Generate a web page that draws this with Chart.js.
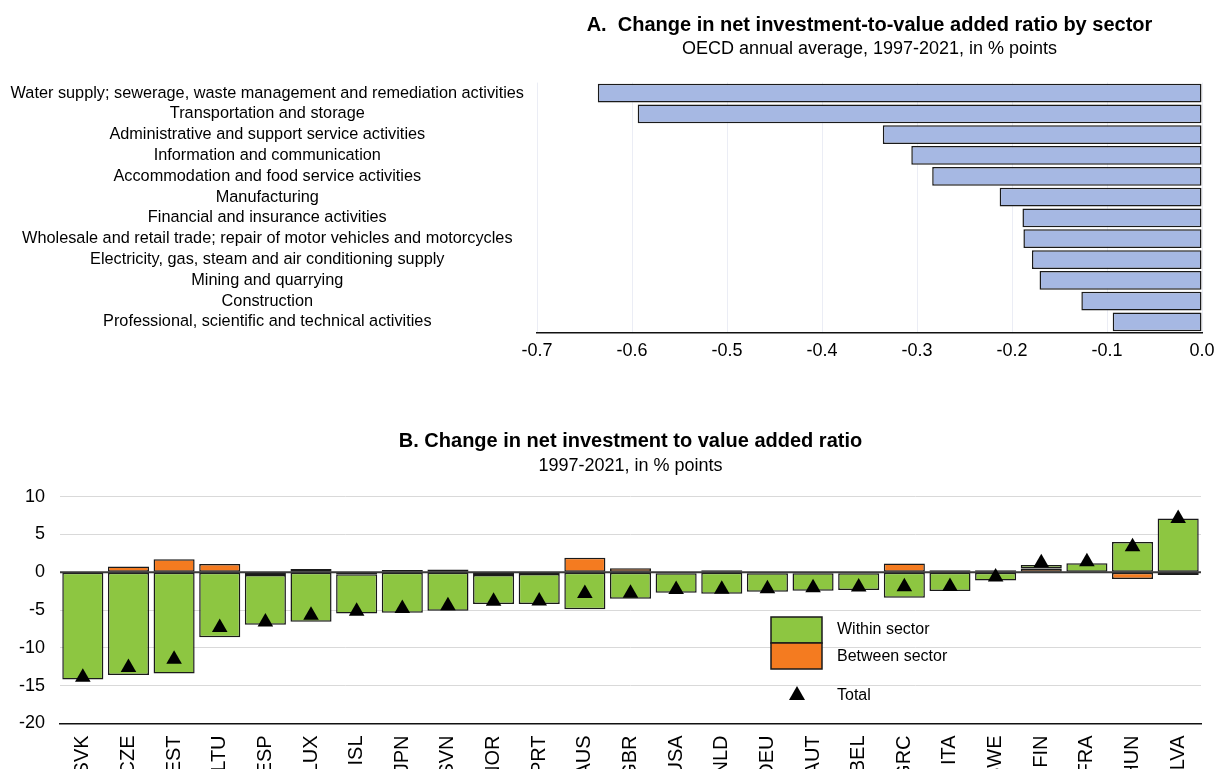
<!DOCTYPE html>
<html>
<head>
<meta charset="utf-8">
<script src="https://cdn.jsdelivr.net/npm/chart.js@4/dist/chart.umd.min.js"></script>
<style>
  html, body { margin: 0; padding: 0; background: #fff; overflow: hidden; }
  #wrapA { position: absolute; left: 0; top: 0; width: 1216px; height: 372px; }
  #wrapB { position: absolute; left: 0; top: 420px; width: 1216px; height: 374px; }
</style>
</head>
<body>
<div id="wrapA"><canvas id="sectorChart" width="1216" height="372"></canvas></div>
<div id="wrapB"><canvas id="countryChart" width="1216" height="374"></canvas></div>
<script>
// Panel A data
const sectors = [
    'Water supply; sewerage, waste management and remediation activities',
    'Transportation and storage',
    'Administrative and support service activities',
    'Information and communication',
    'Accommodation and food service activities',
    'Manufacturing',
    'Financial and insurance activities',
    'Wholesale and retail trade; repair of motor vehicles and motorcycles',
    'Electricity, gas, steam and air conditioning supply',
    'Mining and quarrying',
    'Construction',
    'Professional, scientific and technical activities'
];
const sectorChange = [-0.636, -0.594, -0.336, -0.306, -0.284, -0.213, -0.189, -0.188, -0.179, -0.171, -0.127, -0.094];

// Panel B data
const countries = ['SVK', 'CZE', 'EST', 'LTU', 'ESP', 'LUX', 'ISL', 'JPN', 'SVN', 'NOR', 'PRT', 'AUS', 'GBR',
    'USA', 'NLD', 'DEU', 'AUT', 'BEL', 'GRC', 'ITA', 'SWE', 'FIN', 'FRA', 'HUN', 'LVA'];
const withinSector = [-14.2, -13.6, -13.4, -8.6, -6.6, -6.55, -5.18, -5.36, -5.1, -3.84, -3.97, -4.9, -3.5,
    -2.57, -2.84, -2.42, -2.3, -2.2, -3.37, -2.48, -1.1, 0.47, 1.2, 3.98, 7.12];
const betweenSector = [0.05, 0.74, 1.73, 1.1, -0.36, 0.44, -0.27, 0.3, 0.35, -0.36, -0.23, 1.9, 0.53,
    -0.13, 0.27, -0.15, -0.15, -0.15, 1.15, 0.27, 0.25, 0.5, -0.05, -0.89, -0.36];
const totalChange = [-13.9, -12.6, -11.5, -7.3, -6.6, -5.7, -5.15, -4.8, -4.45, -3.85, -3.8, -2.82, -2.78,
    -2.28, -2.25, -2.2, -2.05, -1.97, -1.93, -1.9, -0.62, 1.24, 1.4, 3.36, 7.1];
const panelBTicks = [-20, -15, -10, -5, 0, 5, 10];

const GREEN = '#8dc641';
const ORANGE = '#f47b20';
const FONT = '"Liberation Sans", Arial, sans-serif';

Chart.defaults.font.family = FONT;
Chart.defaults.color = '#000';
Chart.defaults.animation = false;

// zero line over the bars, under the triangles
const zeroLine = {
    id: 'zeroLine',
    beforeDatasetDraw(chart, args) {
        if (args.index !== 0) return;
        const { ctx, chartArea } = chart;
        const y = chart.scales.y.getPixelForValue(0);
        ctx.save();
        ctx.strokeStyle = '#3a3a3a';
        ctx.lineWidth = 2;
        ctx.beginPath();
        ctx.moveTo(chartArea.left, y);
        ctx.lineTo(chartArea.right, y);
        ctx.stroke();
        ctx.restore();
    }
};

// legend drawn inside the plot like the original
const insideLegend = {
    id: 'insideLegend',
    afterDraw(chart) {
        const ctx = chart.ctx;
        ctx.save();
        ctx.lineWidth = 1.5;
        ctx.strokeStyle = '#1a1a1a';
        ctx.fillStyle = GREEN;
        ctx.fillRect(771, 197, 51, 26);
        ctx.strokeRect(771, 197, 51, 26);
        ctx.fillStyle = ORANGE;
        ctx.fillRect(771, 223, 51, 26);
        ctx.strokeRect(771, 223, 51, 26);
        ctx.fillStyle = '#000';
        ctx.beginPath();
        ctx.moveTo(797, 266);
        ctx.lineTo(805, 280);
        ctx.lineTo(789, 280);
        ctx.closePath();
        ctx.fill();
        ctx.font = '16px ' + FONT;
        ctx.textBaseline = 'middle';
        ctx.textAlign = 'left';
        ctx.fillText('Within sector', 837, 210);
        ctx.fillText('Between sector', 837, 237);
        ctx.fillText('Total', 837, 276);
        ctx.restore();
    }
};

function initSectorChart() {
    const ctx = document.getElementById('sectorChart').getContext('2d');
    new Chart(ctx, {
        type: 'bar',
        data: {
            labels: sectors,
            datasets: [{
                data: sectorChange,
                backgroundColor: '#a6b8e3',
                borderColor: '#1a1a1a',
                borderWidth: 1.5,
                borderSkipped: false,
                barPercentage: 0.9,
                categoryPercentage: 1.0
            }]
        },
        options: {
            indexAxis: 'y',
            responsive: false,
            devicePixelRatio: 1,
            layout: { padding: { left: 10, right: 14, bottom: 2 } },
            plugins: {
                legend: { display: false },
                tooltip: { enabled: false },
                title: {
                    display: true,
                    fullSize: false,
                    text: 'A.  Change in net investment-to-value added ratio by sector',
                    font: { size: 20, weight: 'bold' },
                    padding: { top: 13, bottom: 0 }
                },
                subtitle: {
                    display: true,
                    fullSize: false,
                    text: 'OECD annual average, 1997-2021, in % points',
                    font: { size: 18 },
                    padding: { top: 1, bottom: 23 }
                }
            },
            scales: {
                x: {
                    min: -0.7,
                    max: 0,
                    afterFit: scale => { scale.paddingLeft = 0; scale.paddingRight = 0; },
                    ticks: {
                        stepSize: 0.1,
                        padding: 8,
                        font: { size: 18 },
                        callback: v => Number(v).toFixed(1)
                    },
                    grid: { color: '#ebedf5', drawTicks: false },
                    border: { display: true, color: '#111', width: 1.5 }
                },
                y: {
                    afterFit: scale => { scale.width = 527; },
                    ticks: {
                        autoSkip: false,
                        crossAlign: 'center',
                        padding: 13,
                        font: { size: 16.3 }
                    },
                    grid: { display: false, drawTicks: false },
                    border: { display: false }
                }
            }
        }
    });
}

function initCountryChart() {
    const ctx = document.getElementById('countryChart').getContext('2d');
    new Chart(ctx, {
        type: 'bar',
        data: {
            labels: countries,
            datasets: [{
                type: 'line',
                label: 'Total',
                data: totalChange,
                showLine: false,
                pointStyle: 'triangle',
                pointRadius: 9,
                pointBackgroundColor: '#000',
                pointBorderColor: '#000',
                pointBorderWidth: 0
            }, {
                label: 'Between sector',
                data: betweenSector,
                backgroundColor: ORANGE,
                borderColor: '#1a1a1a',
                borderWidth: 1.5,
                borderSkipped: false,
                barPercentage: 0.9,
                categoryPercentage: 1.0
            }, {
                label: 'Within sector',
                data: withinSector,
                backgroundColor: GREEN,
                borderColor: '#1a1a1a',
                borderWidth: 1.5,
                borderSkipped: false,
                barPercentage: 0.9,
                categoryPercentage: 1.0
            }]
        },
        options: {
            responsive: false,
            devicePixelRatio: 1,
            layout: { padding: { left: 0, right: 15, bottom: 1 } },
            plugins: {
                legend: { display: false },
                tooltip: { enabled: false },
                title: {
                    display: true,
                    fullSize: false,
                    text: 'B. Change in net investment to value added ratio',
                    font: { size: 20, weight: 'bold' },
                    padding: { top: 9, bottom: 0 }
                },
                subtitle: {
                    display: true,
                    fullSize: false,
                    text: '1997-2021, in % points',
                    font: { size: 18 },
                    padding: { top: 2, bottom: 20 }
                }
            },
            scales: {
                x: {
                    stacked: true,
                    ticks: {
                        minRotation: 90,
                        maxRotation: 90,
                        autoSkip: false,
                        padding: 12,
                        font: { size: 20 }
                    },
                    grid: { display: false, drawTicks: false },
                    border: { display: true, color: '#111', width: 1.5 }
                },
                y: {
                    stacked: true,
                    min: panelBTicks[0],
                    max: panelBTicks[panelBTicks.length - 1],
                    afterBuildTicks: scale => {
                        scale.ticks = panelBTicks.map(v => ({ value: v }));
                    },
                    afterFit: scale => { scale.width = 60; },
                    ticks: {
                        padding: 15,
                        font: { size: 18 }
                    },
                    grid: { color: '#d9d9d9', drawTicks: false },
                    border: { display: false }
                }
            }
        },
        plugins: [zeroLine, insideLegend]
    });
}

document.addEventListener('DOMContentLoaded', () => {
    initSectorChart();
    initCountryChart();
});
</script>
</body>
</html>
